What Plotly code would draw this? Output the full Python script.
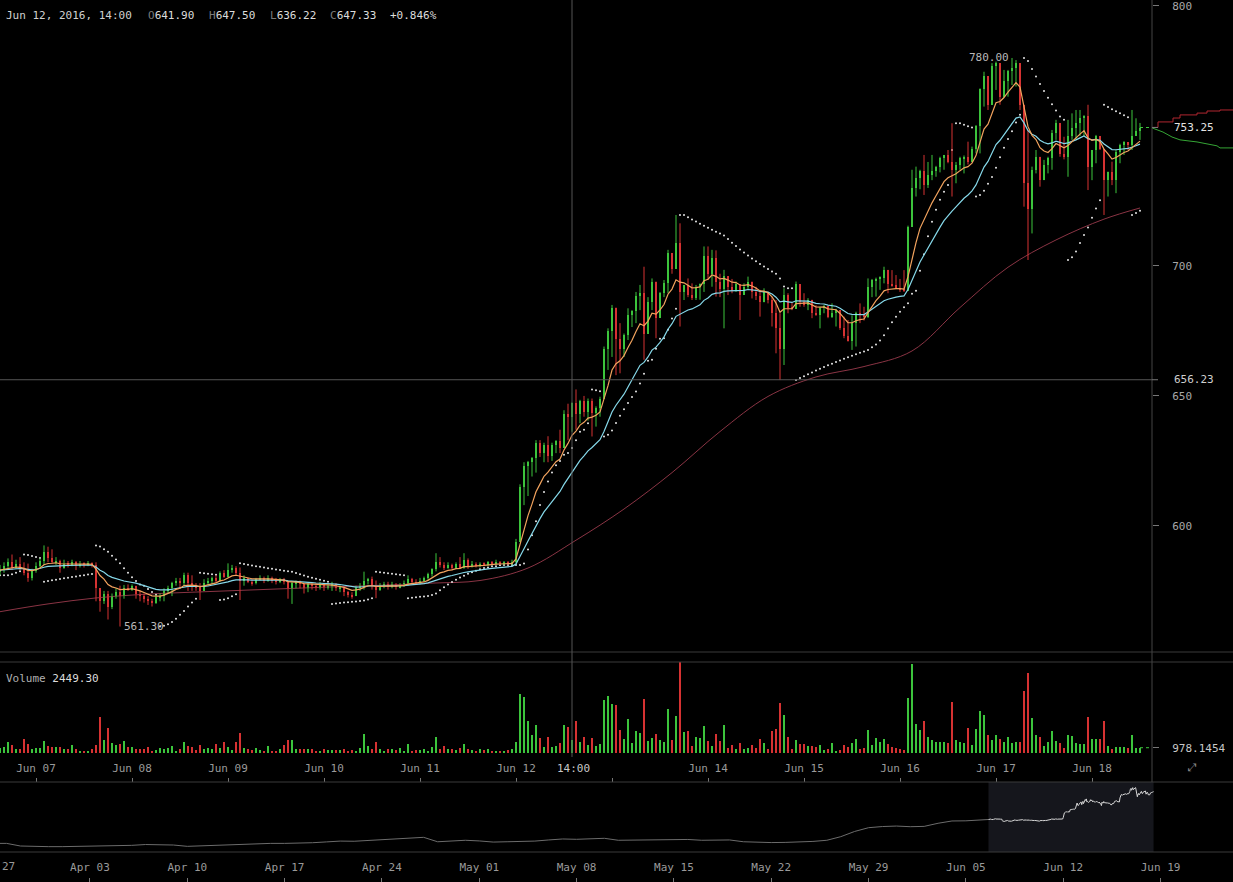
import numpy as np
import pandas as pd
import plotly.graph_objects as go

W, H = 1233, 882

# ---------------- data ----------------
start_time = "2016-06-06 15:00"   # first hourly candle
first_open = 582.5

close = [
    583.0, 584.5, 586.0, 584.0, 585.5, 583.5, 582.0, 580.0, 582.5, 584.5, 586.5, 590.0, 587.5, 586.0, 586.5, 584.0,
    585.5, 585.0, 586.0, 584.5, 585.5, 585.0, 585.5, 585.0,
    576.0, 571.0, 574.0, 569.0, 573.0, 574.5, 573.0, 576.0, 575.5, 577.0, 574.0, 573.0, 572.0, 571.0, 570.5, 572.5,
    573.0, 575.0, 576.0, 578.0, 579.0, 578.0, 581.0, 578.0, 577.0, 576.5,
    575.0, 578.0, 579.0, 580.0, 579.0, 582.0, 580.5, 583.0, 584.0, 582.0, 579.0, 580.0, 578.5, 578.0, 579.5, 580.0,
    579.0, 580.0, 579.0, 578.5, 579.5, 578.5, 576.0, 578.0, 578.5, 577.5,
    576.0, 577.5, 577.0, 576.5, 577.5, 576.5, 577.0, 577.5, 576.0, 576.0, 574.5, 573.5, 573.0, 576.0, 577.0, 579.0,
    579.5, 577.0, 575.5, 577.0, 577.5, 576.5, 577.5, 576.5, 577.0, 578.0, 579.5, 578.5, 578.0, 579.0, 580.0, 581.5,
    583.5, 586.0, 585.0, 584.0, 585.0, 584.0, 585.5, 584.0, 587.0, 584.5, 585.5, 584.5, 585.5, 585.0, 586.0, 585.5,
    586.0, 585.5, 586.0, 585.5, 586.0, 594.0,
    615.0, 623.0, 624.5, 626.0, 632.0, 628.0, 631.0, 627.0, 631.0, 632.5, 630.0, 643.0, 641.9, 647.33, 643.0, 648.0,
    644.0, 648.0, 643.5, 645.5,
    649.0, 668.0, 675.0, 684.0, 672.0, 668.0, 673.5, 681.0, 682.5, 688.5, 689.5, 674.0, 686.0, 694.0, 680.0, 689.5,
    693.5, 705.0, 699.0, 709.0, 690.0, 692.5, 689.0, 687.5, 692.0, 693.0,
    704.0, 697.0, 703.0, 694.0, 691.0, 696.0, 692.0, 690.5, 693.0, 689.0, 692.0, 694.0, 690.0, 688.5, 686.0, 690.0,
    687.0, 682.0, 676.0, 668.0, 689.0, 684.0, 683.5, 693.0,
    686.0, 685.0, 687.0, 682.0, 681.0, 684.0, 684.5, 680.5, 682.0, 683.0, 676.0, 673.0, 671.0, 678.0, 682.0, 681.0,
    680.5, 692.0, 694.5, 695.0, 695.5, 698.5, 693.0, 692.5, 691.5, 691.0, 690.5,
    715.0, 730.0, 734.0, 736.5, 731.0, 735.0, 736.5, 738.0, 741.5, 742.5, 740.0, 737.0, 739.0, 741.5, 742.0, 740.0,
    745.0, 754.0, 768.0, 773.0, 762.0, 777.0, 778.0, 765.0, 771.0, 775.0, 776.0, 778.0, 762.0, 732.0, 722.0, 737.0,
    742.0, 733.0,
    739.0, 741.5, 751.0, 755.0, 743.0, 742.0, 750.0, 753.0, 755.0, 757.0, 757.5, 738.0, 744.5, 750.0, 745.0, 733.0,
    736.0, 733.0, 744.0, 746.5, 747.5, 746.5, 750.0, 752.0, 753.25,
]

high = [
    585, 586, 587.5, 589, 587, 588, 586, 585.5, 583.5, 586, 587.5, 592.5, 592, 591, 588, 587, 587, 586.5, 587, 586.5,
    586.5, 586, 586.5, 586,
    586, 576, 575, 575, 574, 576, 577, 577.3, 577.5, 577.5, 577, 575, 574, 573, 572, 573.5, 574, 576, 577, 578.5,
    580, 580, 582, 582, 581, 578,
    578, 579.5, 580, 580.5, 581, 582.5, 583, 585.6, 585, 584.5, 584, 581, 580, 579.5, 580, 581, 580.5, 581, 580.5, 580,
    580, 580, 579, 578.5, 579, 579,
    578, 578.3, 578, 578, 578.5, 578, 578, 578.5, 578, 577, 576.5, 575, 574.5, 577, 578, 582.4, 580, 580.5, 579, 578,
    578.5, 578.5, 578.5, 578, 578, 579, 581, 580, 579.5, 580, 580.5, 582, 583.7, 589.5, 588, 586, 586, 585.5, 586, 588,
    589.5, 587.5, 586.5, 586, 586, 586, 586.5, 586.5, 587, 586.5, 586.5, 586.5, 587, 595,
    616, 624.5, 625, 626.5, 633, 633, 632, 634.5, 632, 633, 637, 644.5, 647, 647.5, 652.5, 648.5, 650, 649, 649, 646,
    649.7, 669, 676, 685, 683.7, 678, 674, 683.7, 683, 690, 692.7, 699.7, 688, 695.2, 692.7, 690, 694.6, 706.2, 703,
    719.6, 716.4, 692.7, 695.2, 693.3, 692.7, 693.3,
    707.5, 707.5, 706.2, 706, 697, 698.5, 695.2, 695, 694, 692.7, 693.3, 695.9, 693.3, 692, 690.8, 691.4, 689.5, 688.2,
    686.9, 681.8, 691.4, 689.5, 686, 694,
    690.8, 689.5, 687.6, 685.6, 684.9, 684.3, 685, 684.3, 685.6, 683.5, 681.8, 680.5, 679.2, 681, 682.4, 685.6, 684.3,
    695.2, 695, 695.5, 696, 699.7, 698.4, 698.4, 696.5, 695, 698.4,
    715.5, 737, 738.2, 737, 742.7, 740, 742.7, 738.5, 742, 742.7, 744.6, 754.9, 740, 742, 742.5, 747.8, 745.9, 754.2,
    768.3, 774.7, 770.3, 778, 778.6, 772.8, 775.4, 775.4, 780, 779.2, 775.4, 754.9, 752.3, 738.2, 744.6, 739.5,
    740.8, 742, 752.3, 756.2, 754.9, 749.7, 756.2, 758.7, 760, 760, 758, 762, 744.6, 750.4, 749.1, 741.4, 736.3, 740.1,
    744.6, 747, 748, 747.2, 760, 756.8, 755,
]

low = [
    581, 582, 583, 583, 583.5, 583, 581, 578.5, 579, 582, 584, 585, 586, 585.5, 585, 582, 583.5, 584, 584.5, 583,
    584, 584, 584.5, 584,
    571, 567, 570, 564, 568, 572, 561.3, 572, 575, 575, 572, 571, 570.5, 569.6, 569, 570, 571, 571, 574, 573,
    577, 576, 577, 575, 575, 575,
    571.5, 576, 577, 577.5, 578, 578.5, 580, 580, 582, 581, 571.5, 577, 578, 577, 577.5, 579, 578, 578.5, 578, 577.5,
    578, 577.5, 572, 570, 576, 576,
    574, 574.5, 575.5, 575, 575.5, 575, 575.5, 575, 575, 574.5, 573, 572.5, 572, 573, 575, 575.5, 577.5, 575.5, 572.2,
    575, 576, 575.5, 576, 575.5, 576, 576.5, 577, 578, 577.5, 577.5, 578.5, 579, 580.5, 582.5, 584, 583, 583.5, 583,
    583.5, 583.5, 583.5, 583.5, 584, 584, 584, 584.5, 584.5, 585, 585, 585, 585, 585, 585, 585.5,
    594, 608, 611.5, 619, 620.5, 626.5, 624.5, 624.5, 625, 628, 628, 630, 633, 636.22, 637, 639.5, 642, 640.5, 634.4,
    638.2,
    642, 649.7, 660, 665, 658, 658.7, 665, 671.5, 676.5, 678, 683, 663.9, 675.4, 683, 672.2, 680.5, 688, 689.5, 697,
    701, 676.7, 686.9, 688, 686.9, 686.9, 687,
    690, 694.6, 692, 688.2, 688, 676, 688.8, 689.5, 690, 679.2, 689.5, 691, 687.5, 686.9, 680.5, 686.9, 685.6, 676.7,
    666.4, 656.1, 661.9, 681.8, 683, 684.3,
    684.3, 684.3, 683, 679.9, 680.8, 676, 681.8, 679.9, 680, 676.7, 675.4, 672.2, 670.9, 667.7, 669, 678, 679, 680,
    688, 688.2, 690.8, 693.3, 689.5, 692, 691.4, 690, 690,
    694.6, 715, 726.7, 729.5, 727.3, 730, 733, 734.3, 736, 737, 739.5, 726.7, 731.8, 737, 735.6, 739, 740.7, 743.3,
    743.3, 761.3, 760, 762.6, 767.7, 762, 765, 765.1, 769.6, 769, 760, 722.8, 702.3, 712.5, 735.6, 730.5,
    733, 735.6, 737, 748.5, 742, 741, 734.3, 748.5, 748.5, 750, 750, 729.2, 733, 739.5, 744.6, 719.6, 726.7, 731.1,
    728, 739.5, 742.7, 744.6, 744.6, 751, 748.5,
]

volume = [
    843, 1176, 2019, 1509, 647, 725, 2685, 1705, 725, 843,
    843, 2293, 1372, 1039, 1039, 1117, 647, 647, 1509, 647,
    333, 196, 196, 647, 1509, 6997, 2489, 4900, 1901, 1431,
    1627, 2352, 1176, 1117, 647, 647, 725, 1176, 333, 529,
    980, 647, 843, 1313, 392, 647, 2019, 1372, 1176, 529,
    1568, 725, 843, 647, 1705, 843, 2097, 1176, 529, 2019,
    3861, 843, 647, 451, 843, 451, 333, 1313, 333, 333,
    647, 1509, 2489, 2411, 784, 647, 725, 647, 725, 392,
    333, 647, 451, 588, 588, 529, 647, 333, 588, 333,
    843, 3665, 1313, 647, 2097, 647, 392, 647, 784, 588,
    843, 333, 1705, 333, 451, 529, 647, 392, 1117, 3077,
    647, 1372, 647, 725, 451, 921, 1705, 647, 588, 333,
    647, 529, 647, 333, 196, 333, 333, 451, 725, 2019,
    11505, 10976, 6272, 3469, 5429, 2940, 1176, 3077, 1176, 1372,
    1901, 5429, 5096, 2449.30, 6272, 2019, 2999, 1431, 2803, 1372,
    1705, 10329, 11113, 9545, 9349, 4449, 2685, 6605, 1823, 4253,
    3920, 10584, 2293, 2803, 3665, 2489, 2019, 8565, 2489, 7193,
    17836, 3979, 4253, 1372, 3077, 2940, 5233, 2293, 1313, 3665,
    2293, 5429, 843, 1509, 647, 1960, 725, 980, 1509, 843,
    2685, 1823, 647, 4253, 4645, 9663, 7389, 3077, 647, 2489,
    1627, 1627, 1313, 1372, 1176, 1509, 529, 725, 1901, 333,
    529, 1509, 1176, 1960, 2685, 725, 843, 4449, 1509, 2940,
    2019, 2685, 1705, 1176, 980, 647, 529, 10780, 17385, 5684,
    4449, 6213, 3077, 2489, 2019, 2019, 2156, 1901, 9996, 2489,
    2019, 1960, 4900, 1509, 4645, 8232, 7389, 3469, 2489, 3469,
    2685, 2019, 3077, 1901, 2019, 2019, 12152, 15543, 6860, 3469,
    3136, 1313, 2156, 4253, 2293, 1823, 980, 3469, 3273, 1960,
    1627, 1627, 7056, 2685, 2685, 2685, 6213, 1372, 647, 1117,
    1039, 1039, 843, 3469, 843, 978.1454,
]

# long moving average (at every 12th candle)
ma_index = [0, 12, 24, 36, 48, 60, 72, 84, 96, 108, 120, 132, 144, 156, 168, 180, 192, 204, 216, 228, 240, 252,
            264, 276, 285]
ma_values = [567.0, 570.0, 572.3, 573.7, 574.5, 575.2, 575.9, 576.6, 577.2, 578.0, 579.0, 583.8, 594.5, 606.5,
             620.5, 636.3, 649.8, 657.3, 661.3, 667.3, 684.0, 699.5, 710.0, 718.0, 722.3]

# navigator history (daily, before the visible window)
nav_start = "2016-03-27"
nav_hist = [437, 437, 421, 418, 417,
            417, 418, 421, 424, 424, 425, 430, 429, 427, 419, 422, 428, 428, 430, 433, 437, 437, 438, 441, 446,
            451, 450, 455, 458, 465, 470, 474, 447, 452, 456,
            452, 445, 447, 449, 451, 458, 464, 462, 465, 468, 456, 457, 462, 462, 462, 461, 456, 458, 458, 447,
            443, 442, 443, 445, 449, 456, 478, 510, 533, 540, 543,
            539, 541, 560, 574, 575, 578]
nav_range = ["2016-03-27 12:39", "2016-06-24 05:07"]
nav_ticks = ["2016-04-03", "2016-04-10", "2016-04-17", "2016-04-24", "2016-05-01", "2016-05-08", "2016-05-15",
             "2016-05-22", "2016-05-29", "2016-06-05", "2016-06-12", "2016-06-19"]
nav_labels = ["Apr 03", "Apr 10", "Apr 17", "Apr 24", "May 01", "May 08", "May 15", "May 22", "May 29",
              "Jun 05", "Jun 12", "Jun 19"]
nav_first_label = "27"   # "Mar 27", cut by the left edge

# order-book depth at the right edge
ask_depth = [0, 6, 21, 28, 45, 55, 68, 81]
ask_price = [753.3, 755.4, 756.9, 758.1, 758.8, 759.6, 760.0, 760.0]
bid_depth = [0, 11, 20, 28, 45, 55, 65, 68, 81]
bid_price = [753.1, 751.5, 749.6, 748.5, 747.7, 746.9, 746.2, 745.4, 745.4]

cross_time = "2016-06-12 14:00"
cross_price = 656.23
price_ticks = [600, 650, 700, 800]
hidden_day_label = "Jun 13"

# ---------------- derived ----------------
n = len(close)
assert len(high) == n and len(low) == n and len(volume) == n
times = pd.date_range(start_time, periods=n, freq="h")
c = np.array(close, float)
o = np.concatenate([[first_open], c[:-1]])
h = np.maximum.reduce([np.array(high, float), o, c])
l = np.minimum.reduce([np.array(low, float), o, c])
up = c >= o
UP, DN = "#3cc43c", "#d63232"
col = np.where(up, UP, DN)

ema_fast = pd.Series(c).ewm(span=9, adjust=False).mean()
ema_slow = pd.Series(c).ewm(span=21, adjust=False).mean()


def psar(hi, lo, step=0.02, amax=0.2):
    out = np.empty(len(hi))
    bull, af, ep = True, step, hi[0]
    out[0] = lo[0]
    for i in range(1, len(hi)):
        prev = out[i - 1]
        s = prev + af * (ep - prev)
        if bull:
            s = min(s, lo[i - 1], lo[max(i - 2, 0)])
            if lo[i] < s:
                bull, s, ep, af = False, ep, lo[i], step
            elif hi[i] > ep:
                ep, af = hi[i], min(af + step, amax)
        else:
            s = max(s, hi[i - 1], hi[max(i - 2, 0)])
            if hi[i] > s:
                bull, s, ep, af = True, ep, hi[i], step
            elif lo[i] < ep:
                ep, af = lo[i], min(af + step, amax)
        out[i] = s
    return out


sar = psar(h, l)
t_lo = times[0]
t_hi = times[0] + pd.Timedelta(hours=288)
ci = list(times).index(pd.Timestamp(cross_time))

FONT = "DejaVu Sans Mono"
fig = go.Figure()

# long MA
fig.add_trace(go.Scatter(x=times[ma_index], y=ma_values, mode="lines",
                         line=dict(color="#8a3444", width=1, shape="spline"), hoverinfo="skip"))
# SAR dots
fig.add_trace(go.Scatter(x=times, y=sar, mode="markers",
                         marker=dict(color="#e6e6e6", size=2, line=dict(width=0)), hoverinfo="skip"))


def wick_xy(mask):
    xs, ys = [], []
    for t, hi_, lo_ in zip(times[mask], h[mask], l[mask]):
        xs += [t, t, None]
        ys += [lo_, hi_, None]
    return xs, ys


for mask, colr in ((up, UP), (~up, DN)):
    wx, wy = wick_xy(mask)
    fig.add_trace(go.Scatter(x=wx, y=wy, mode="lines", line=dict(color=colr, width=1), hoverinfo="skip"))

body_lo = np.minimum(o, c)
body_h = np.maximum(np.abs(c - o), 0.4)
fig.add_trace(go.Bar(x=times, y=body_h, base=body_lo, width=0.5 * 3600e3,
                     marker=dict(color=col, line=dict(width=0)), hoverinfo="skip"))

fig.add_trace(go.Scatter(x=times, y=ema_slow, mode="lines", line=dict(color="#86d9ea", width=1.2), hoverinfo="skip"))
fig.add_trace(go.Scatter(x=times, y=ema_fast, mode="lines", line=dict(color="#f2a35e", width=1.2), hoverinfo="skip"))

# last price dotted line
fig.add_trace(go.Scatter(x=[times[-1], t_hi], y=[c[-1], c[-1]], mode="lines",
                         line=dict(color=UP, width=1, dash="dot"), hoverinfo="skip"))

# depth lines (right margin)
fig.add_trace(go.Scatter(x=ask_depth, y=ask_price, mode="lines", line=dict(color="#b02630", width=1, shape="hv"),
                         xaxis="x4", yaxis="y", hoverinfo="skip"))
fig.add_trace(go.Scatter(x=bid_depth, y=bid_price, mode="lines", line=dict(color="#35a535", width=1),
                         xaxis="x4", yaxis="y", hoverinfo="skip"))

# volume
fig.add_trace(go.Bar(x=times, y=volume, width=0.3 * 3600e3, marker=dict(color=col, line=dict(width=0)),
                     xaxis="x2", yaxis="y2", hoverinfo="skip"))
fig.add_trace(go.Scatter(x=[times[-1], t_hi], y=[volume[-1], volume[-1]], mode="lines",
                         line=dict(color=UP, width=1, dash="dot"), xaxis="x2", yaxis="y2", hoverinfo="skip"))

# navigator
nav_t = pd.date_range(nav_start, periods=len(nav_hist), freq="D")
fig.add_trace(go.Scatter(x=list(nav_t) + [times[0]], y=nav_hist + [close[0]], mode="lines",
                         line=dict(color="#6c6c6c", width=1), xaxis="x3", yaxis="y3", hoverinfo="skip"))
fig.add_trace(go.Scatter(x=times, y=c, mode="lines", line=dict(color="#d6d6d6", width=1),
                         xaxis="x3", yaxis="y3", hoverinfo="skip"))

# ---------------- layout ----------------
XR = 1152 / W
py = lambda px: 1 - px / H

day_ticks = pd.date_range("2016-06-07", "2016-06-18", freq="D")
day_labels = ["" if d.strftime("%b %d") == hidden_day_label else d.strftime("%b %d") for d in day_ticks]

axis_common = dict(showgrid=False, zeroline=False, showline=False)
fig.update_layout(
    width=W, height=H, margin=dict(l=0, r=0, t=0, b=0),
    paper_bgcolor="#000000", plot_bgcolor="#000000", showlegend=False, bargap=0,
    font=dict(family=FONT, size=11, color="#9a9a9a"),
    xaxis=dict(domain=[0, XR], range=[t_lo, t_hi], type="date", anchor="y", showticklabels=False, ticks="",
               **axis_common),
    yaxis=dict(domain=[py(652), 1], range=[551.5, 802.3], side="right", anchor="x",
               tickvals=price_ticks, ticks="outside", ticklen=6, tickcolor="#777", ticklabeloverflow="allow",
               tickfont=dict(color="#a8a8a8", size=11, family=FONT), ticklabelstandoff=11, **axis_common),
    xaxis2=dict(domain=[0, XR], matches="x", type="date", anchor="free", position=py(782), side="top",
                tickvals=list(day_ticks), ticktext=day_labels, ticks="outside", ticklen=4, tickcolor="#777",
                ticklabelstandoff=2, ticklabeloverflow="allow",
                tickfont=dict(color="#9a9a9a", size=11, family=FONT), **axis_common),
    yaxis2=dict(domain=[py(757), py(662)], range=[-843, 17777], anchor="x2", side="right",
                tickvals=[volume[-1]], ticktext=[f"{volume[-1]:.4f}"], ticks="outside", ticklen=6,
                tickcolor="#777", tickfont=dict(color="#c8c8c8", size=11, family=FONT), ticklabelstandoff=11,
                ticklabeloverflow="allow", **axis_common),
    xaxis3=dict(domain=[0, 1], range=nav_range, type="date", anchor="free", position=0.0, side="top",
                tickvals=nav_ticks, ticktext=nav_labels, ticks="outside", ticklen=4, tickcolor="#777",
                ticklabelstandoff=3, ticklabeloverflow="allow",
                tickfont=dict(color="#9a9a9a", size=11, family=FONT), **axis_common),
    yaxis3=dict(domain=[py(852), py(782)], range=[384.3, 812.4], anchor="x3", showticklabels=False, ticks="",
                **axis_common),
    xaxis4=dict(domain=[XR, 1], range=[0, 81], anchor="y", visible=False),
)

shapes = []
for ypx in (652, 662, 782, 852):
    shapes.append(dict(type="line", xref="paper", yref="paper", x0=0, x1=1, y0=py(ypx), y1=py(ypx),
                       line=dict(color="#3a3a3a", width=1)))
shapes.append(dict(type="line", xref="paper", yref="paper", x0=XR, x1=XR, y0=py(782), y1=1,
                   line=dict(color="#444444", width=1)))
# navigator selection window
shapes.append(dict(type="rect", xref="x3", yref="paper", x0=times[0], x1=times[-1], y0=py(852), y1=py(782),
                   fillcolor="#15161c", line=dict(width=0), layer="below"))
# crosshair
shapes.append(dict(type="line", xref="x", yref="paper", x0=cross_time, x1=cross_time, y0=py(757), y1=1,
                   line=dict(color="#555555", width=1)))
shapes.append(dict(type="line", xref="paper", yref="y", x0=0, x1=XR, y0=cross_price, y1=cross_price,
                   line=dict(color="#555555", width=1)))
# extra axis ticks for special labels
for pv in (c[-1], cross_price):
    shapes.append(dict(type="line", xref="paper", yref="y", x0=XR, x1=XR + 6 / W, y0=pv, y1=pv,
                       line=dict(color="#777", width=1)))
fig.update_layout(shapes=shapes)

co, ch, cl, cc = o[ci], h[ci], l[ci], c[ci]
chg = (cc - co) / co * 100
ann = []


def txt(xpx, ypx, text, color="#d0d0d0", anchor="left"):
    ann.append(dict(xref="paper", yref="paper", x=xpx / W, y=py(ypx), text=text, showarrow=False,
                    xanchor=anchor, yanchor="middle", font=dict(family=FONT, size=11, color=color)))


lab = "<span style='color:#7a7a7a'>%s</span>%s"
txt(4, 16, times[ci].strftime("%b %d, %Y, %H:%M"))
txt(146, 16, lab % ("O", f"{co:.2f}"), "#dcdcdc")
txt(207, 16, lab % ("H", f"{ch:.2f}"), "#dcdcdc")
txt(268, 16, lab % ("L", f"{cl:.2f}"), "#dcdcdc")
txt(328, 16, lab % ("C", f"{cc:.2f}"), "#dcdcdc")
txt(388, 16, f"{chg:+.3f}%", "#dcdcdc")
txt(4, 678, f"<span style='color:#b0b0b0'>Volume</span> {volume[ci]:.2f}", "#dcdcdc")
txt(573, 768, times[ci].strftime("%H:%M"), "#c8c8c8", "center")
txt(0, 866, nav_first_label, "#9a9a9a", "left")
txt(1192, 767, "⤢", "#8a8a8a", "center")

ih, il = int(np.argmax(h)), int(np.argmin(l))
ann.append(dict(xref="x", yref="y", x=times[ih], y=h[ih], text=f"{h[ih]:.2f}", showarrow=False,
                xanchor="right", yanchor="middle", xshift=-1, font=dict(family=FONT, size=11, color="#b8b8b8")))
ann.append(dict(xref="x", yref="y", x=times[il], y=l[il], text=f"{l[il]:.2f}", showarrow=False,
                xanchor="left", yanchor="middle", xshift=2, font=dict(family=FONT, size=11, color="#b8b8b8")))
for pv, colr in ((c[-1], "#e4e4e4"), (cross_price, "#cfcfcf")):
    ann.append(dict(xref="paper", yref="y", x=1172 / W, y=pv, text=f"{pv:.2f}", showarrow=False,
                    xanchor="left", yanchor="middle", font=dict(family=FONT, size=11, color=colr)))
fig.update_layout(annotations=ann)

fig.write_html("out.html", config={"displayModeBar": False},
               post_script="document.body.style.margin='0px';document.body.style.overflow='hidden';")
